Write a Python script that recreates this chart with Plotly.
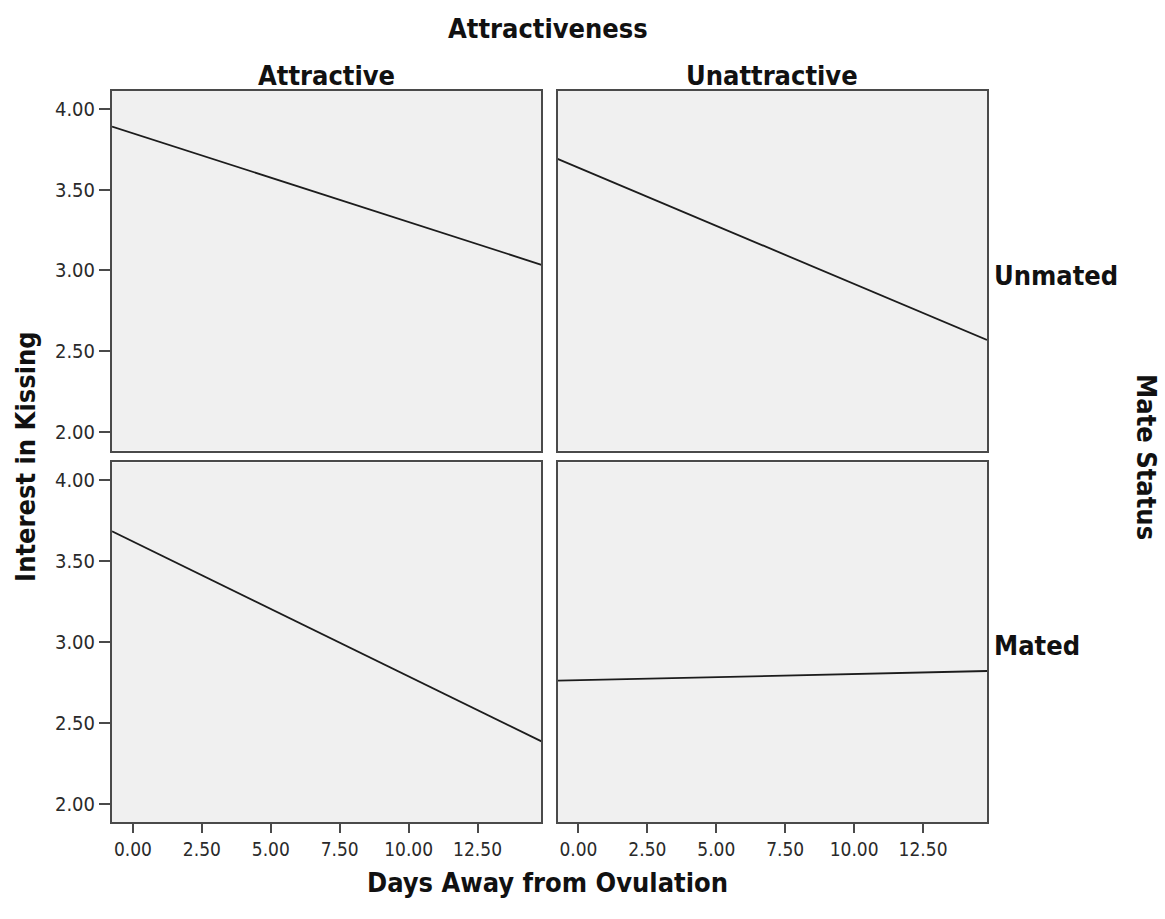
import plotly.graph_objects as go
from plotly.subplots import make_subplots

# Panel layout: columns = attractiveness, rows = mate status
col_labels = ["Attractive", "Unattractive"]
row_labels = ["Unmated", "Mated"]

# Fitted lines of interest in kissing vs. days away from ovulation,
# evaluated at the two ends of the x axis
fit_days = [-0.76, 14.82]
kiss_unmated_attractive = [3.89, 3.035]
kiss_unmated_unattractive = [3.69, 2.57]
kiss_mated_attractive = [3.685, 2.385]
kiss_mated_unattractive = [2.76, 2.82]

x_ticks = [0.0, 2.5, 5.0, 7.5, 10.0, 12.5]
y_ticks = [2.0, 2.5, 3.0, 3.5, 4.0]

panels = {
    (1, 1): kiss_unmated_attractive,
    (1, 2): kiss_unmated_unattractive,
    (2, 1): kiss_mated_attractive,
    (2, 2): kiss_mated_unattractive,
}

FONT = "DejaVu Sans Condensed, DejaVu Sans, Tahoma, sans-serif"
FRAME = "#4a4a4a"

fig = make_subplots(rows=2, cols=2, horizontal_spacing=0.0183,
                    vertical_spacing=0.0164)

for (r, c), vals in panels.items():
    fig.add_trace(
        go.Scatter(x=fit_days, y=vals, mode="lines",
                   line=dict(color="#1c1c1c", width=1.8),
                   showlegend=False, hoverinfo="skip"),
        row=r, col=c)

for r in (1, 2):
    for c in (1, 2):
        fig.update_xaxes(
            range=[-0.76, 14.82], tickvals=x_ticks, tickformat=".2f",
            showgrid=False, zeroline=False, showline=True, mirror=True,
            linecolor=FRAME, linewidth=2,
            ticks="outside" if r == 2 else "", ticklen=9, tickwidth=2,
            tickcolor=FRAME, showticklabels=(r == 2),
            tickfont=dict(family=FONT, size=19, color="#2a2a2a"),
            row=r, col=c)
        fig.update_yaxes(
            range=[1.886, 4.11], tickvals=y_ticks, tickformat=".2f",
            showgrid=False, zeroline=False, showline=True, mirror=True,
            linecolor=FRAME, linewidth=2,
            ticks="outside" if c == 1 else "", ticklen=11, tickwidth=2,
            tickcolor=FRAME, showticklabels=(c == 1),
            tickfont=dict(family=FONT, size=20, color="#2a2a2a"),
            row=r, col=c)

title_font = dict(family=FONT, size=27, color="#111")
bold = lambda s: "<b>" + s + "</b>"

annotations = [
    dict(text=bold("Attractiveness"), x=0.498, y=1.086),
    dict(text=bold(col_labels[0]), x=0.245, y=1.021),
    dict(text=bold(col_labels[1]), x=0.754, y=1.021),
    dict(text=bold(row_labels[0]), x=1.006, y=0.747, xanchor="left"),
    dict(text=bold(row_labels[1]), x=1.006, y=0.242, xanchor="left"),
    dict(text=bold("Mate Status"), x=1.183, y=0.499, textangle=90),
    dict(text=bold("Interest in Kissing"), x=-0.099, y=0.5, textangle=-90),
    dict(text=bold("Days Away from Ovulation"), x=0.498, y=-0.083),
]
for a in annotations:
    a.setdefault("xanchor", "center")
    fig.add_annotation(xref="paper", yref="paper", yanchor="middle",
                       showarrow=False, font=title_font, **a)

fig.update_layout(
    width=1165, height=919,
    margin=dict(l=112, r=178, t=91, b=97),
    paper_bgcolor="white", plot_bgcolor="#f0f0f0",
    font=dict(family=FONT),
)

fig.write_html("out.html")
